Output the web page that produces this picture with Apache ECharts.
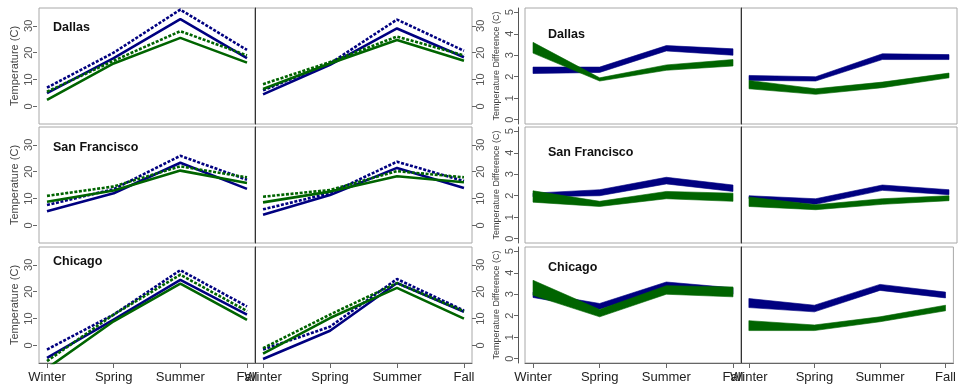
<!DOCTYPE html>
<html>
<head>
<meta charset="utf-8">
<script src="https://cdn.jsdelivr.net/npm/echarts@6/dist/echarts.min.js"></script>
<style>
  html, body { margin: 0; padding: 0; background: #fff; }
  #chart { width: 959px; height: 387px; }
</style>
</head>
<body>
<div id="chart"></div>
<script>
// Seasons on the x axis and the three cities shown in the rows
const seasons = ['Winter', 'Spring', 'Summer', 'Fall'];
const cities = ['Dallas', 'San Francisco', 'Chicago'];
const tempTicks = [0, 10, 20, 30];
const diffTicks = [0, 1, 2, 3, 4, 5];

// Seasonal temperatures (C), first and second panel of each city
const dallas1NavySolid = [5, 18, 32.5, 18];
const dallas1NavyDash = [7, 20, 36, 21];
const dallas1GreenSolid = [2.5, 16, 25.5, 16.3];
const dallas1GreenDash = [5.5, 17, 28, 19];

const dallas2NavySolid = [4.5, 15.5, 29, 18.3];
const dallas2NavyDash = [6, 16, 32.3, 20.7];
const dallas2GreenSolid = [6.5, 16, 24.7, 17];
const dallas2GreenDash = [8.3, 16.5, 26, 19];

const sanfran1NavySolid = [5.3, 12, 23.3, 13.6];
const sanfran1NavyDash = [7.6, 13.5, 25.9, 17];
const sanfran1GreenSolid = [8.8, 13, 20.4, 15.8];
const sanfran1GreenDash = [11, 14.5, 22, 17.9];

const sanfran2NavySolid = [4, 11.3, 21.4, 13.9];
const sanfran2NavyDash = [6, 12, 23.7, 16.5];
const sanfran2GreenSolid = [8.6, 12.6, 18.3, 16.1];
const sanfran2GreenDash = [10.7, 13.2, 20.2, 17.9];

const chicago1NavySolid = [-4.6, 9.6, 24.4, 11.5];
const chicago1NavyDash = [-1.5, 11.5, 28, 14.5];
const chicago1GreenSolid = [-8.5, 9, 23, 9.5];
const chicago1GreenDash = [-5.8, 11.5, 26.3, 12.8];

const chicago2NavySolid = [-5, 5.5, 23.2, 12.5];
const chicago2NavyDash = [-1.5, 7, 24.7, 13];
const chicago2GreenSolid = [-3, 10.2, 21.4, 10];
const chicago2GreenDash = [-1, 11.5, 23.2, 12.7];

// Temperature difference bands (C): lower and upper edge per season
const dallas1NavyLo = [2.15, 2.2, 3.2, 3.0];
const dallas1NavyHi = [2.45, 2.45, 3.45, 3.3];
const dallas1GreenLo = [3.1, 1.8, 2.3, 2.5];
const dallas1GreenHi = [3.6, 1.95, 2.55, 2.8];

const dallas2NavyLo = [1.83, 1.8, 2.8, 2.8];
const dallas2NavyHi = [2.06, 2.0, 3.07, 3.03];
const dallas2GreenLo = [1.44, 1.18, 1.49, 1.95];
const dallas2GreenHi = [1.83, 1.44, 1.75, 2.17];

const sanfran1NavyLo = [1.95, 2.0, 2.55, 2.2];
const sanfran1NavyHi = [2.12, 2.28, 2.86, 2.5];
const sanfran1GreenLo = [1.7, 1.5, 1.86, 1.74];
const sanfran1GreenHi = [2.23, 1.74, 2.2, 2.12];

const sanfran2NavyLo = [1.86, 1.6, 2.25, 2.05];
const sanfran2NavyHi = [2.0, 1.86, 2.5, 2.28];
const sanfran2GreenLo = [1.5, 1.35, 1.6, 1.77];
const sanfran2GreenHi = [1.94, 1.58, 1.86, 2.0];

const chicago1NavyLo = [2.85, 2.3, 3.26, 3.0];
const chicago1NavyHi = [3.1, 2.57, 3.57, 3.3];
const chicago1GreenLo = [2.95, 1.95, 3.0, 2.88];
const chicago1GreenHi = [3.65, 2.29, 3.4, 3.34];

const chicago2NavyLo = [2.38, 2.18, 3.18, 2.83];
const chicago2NavyHi = [2.8, 2.49, 3.46, 3.1];
const chicago2GreenLo = [1.31, 1.31, 1.72, 2.23];
const chicago2GreenHi = [1.77, 1.57, 1.95, 2.49];

const NAVY = '#000080';
const GREEN = '#006400';
const FONT = '"Liberation Sans", Arial, sans-serif';

const tempPanels = [
  [[dallas1NavyDash, dallas1NavySolid, dallas1GreenDash, dallas1GreenSolid],
   [dallas2NavyDash, dallas2NavySolid, dallas2GreenDash, dallas2GreenSolid]],
  [[sanfran1NavyDash, sanfran1NavySolid, sanfran1GreenDash, sanfran1GreenSolid],
   [sanfran2NavyDash, sanfran2NavySolid, sanfran2GreenDash, sanfran2GreenSolid]],
  [[chicago1NavyDash, chicago1NavySolid, chicago1GreenDash, chicago1GreenSolid],
   [chicago2NavyDash, chicago2NavySolid, chicago2GreenDash, chicago2GreenSolid]]
];
const diffPanels = [
  [[dallas1NavyLo, dallas1NavyHi, dallas1GreenLo, dallas1GreenHi],
   [dallas2NavyLo, dallas2NavyHi, dallas2GreenLo, dallas2GreenHi]],
  [[sanfran1NavyLo, sanfran1NavyHi, sanfran1GreenLo, sanfran1GreenHi],
   [sanfran2NavyLo, sanfran2NavyHi, sanfran2GreenLo, sanfran2GreenHi]],
  [[chicago1NavyLo, chicago1NavyHi, chicago1GreenLo, chicago1GreenHi],
   [chicago2NavyLo, chicago2NavyHi, chicago2GreenLo, chicago2GreenHi]]
];

// Panel geometry
const rowTops = [8, 127, 247];
const rowHeight = 116;
const colLefts = [39, 255, 525, 741];
const colWidths = [216, 217, 216, 216];

const grid = [], xAxis = [], yAxis = [], series = [], title = [];
const seasonTicks = [0, 1, 2, 3];

function addXAxis(gi, bottomRow) {
  xAxis.push({
    type: 'value', gridIndex: gi, min: -0.12, max: 3.12,
    splitLine: { show: false },
    axisLine: { show: bottomRow, onZero: false, lineStyle: { color: '#666', width: 1 } },
    axisTick: { show: bottomRow, customValues: seasonTicks, length: 5, lineStyle: { color: '#666' } },
    axisLabel: {
      show: bottomRow, customValues: seasonTicks, margin: 8,
      fontSize: 13, color: '#222', fontFamily: FONT,
      formatter: v => seasons[Math.round(v)]
    }
  });
}

function tickedY(gi, min, max, ticks, opts) {
  return Object.assign({
    type: 'value', gridIndex: gi, min: min, max: max,
    splitLine: { show: false },
    axisTick: { show: true, customValues: ticks, length: 4, lineStyle: { color: '#666' } },
    axisLabel: { show: true, customValues: ticks, rotate: 90, fontSize: 11, color: '#555', fontFamily: FONT, margin: 3 }
  }, opts);
}

function bareY(gi, min, max) {
  return {
    type: 'value', gridIndex: gi, min: min, max: max,
    splitLine: { show: false }, axisTick: { show: false }, axisLabel: { show: false },
    axisLine: { show: true, onZero: false, lineStyle: { color: '#333', width: 1 } }
  };
}

function lineSeries(values, color, dashed, xi, yi) {
  return {
    type: 'line', xAxisIndex: xi, yAxisIndex: yi, symbol: 'none', clip: true,
    silent: true, animation: false,
    data: values.map((v, i) => [i, v]),
    lineStyle: { color: color, width: 2.6, type: dashed ? [3, 1.6] : 'solid', cap: 'butt' }
  };
}

function bandSeries(lo, hi, color, xi, yi) {
  return {
    type: 'custom', xAxisIndex: xi, yAxisIndex: yi, clip: true, silent: true, animation: false,
    data: lo.map((v, i) => [i, v, hi[i]]),
    renderItem: function (params, api) {
      if (params.dataIndex !== 0) return null;
      const pts = [];
      for (let i = 0; i < lo.length; i++) pts.push(api.coord([i, lo[i]]));
      for (let i = hi.length - 1; i >= 0; i--) pts.push(api.coord([i, hi[i]]));
      return { type: 'polygon', shape: { points: pts }, style: { fill: color, stroke: color, lineWidth: 0.6 } };
    }
  };
}

for (let r = 0; r < 3; r++) {
  const bottomRow = r === 2;
  for (let c = 0; c < 4; c++) {
    const gi = grid.length;
    grid.push({
      left: colLefts[c], top: rowTops[r], width: colWidths[c], height: rowHeight,
      show: true, borderColor: '#a8a8a8', borderWidth: 1, backgroundColor: '#fff'
    });
    addXAxis(gi, bottomRow);
    const xi = gi;
    let yi;
    if (c === 0) {
      yi = yAxis.length;
      yAxis.push(tickedY(gi, -6.5, 36.6, tempTicks, {
        position: 'left', offset: 2,
        axisLine: { show: false, onZero: false },
        name: 'Temperature (C)', nameLocation: 'middle', nameGap: 17,
        nameTextStyle: { fontSize: 11, color: '#444', fontFamily: FONT }
      }));
    } else if (c === 1) {
      yi = yAxis.length;
      yAxis.push(tickedY(gi, -6.5, 36.6, tempTicks, { position: 'right', axisLine: { show: false, onZero: false } }));
      yAxis.push(Object.assign(bareY(gi, -6.5, 36.6), { position: 'left' }));
    } else if (c === 2) {
      yi = yAxis.length;
      yAxis.push(tickedY(gi, -0.2, 5.2, diffTicks, {
        position: 'left', offset: 7,
        axisLine: { show: true, onZero: false, lineStyle: { color: '#555', width: 1 } },
        name: 'Temperature Difference (C)', nameLocation: 'middle', nameGap: 17,
        nameTextStyle: { fontSize: 9, color: '#444', fontFamily: FONT }
      }));
    } else {
      yi = yAxis.length;
      yAxis.push(Object.assign(bareY(gi, -0.2, 5.2), { position: 'left' }));
    }

    if (c < 2) {
      const set = tempPanels[r][c];
      series.push(lineSeries(set[0], NAVY, true, xi, yi));
      series.push(lineSeries(set[1], NAVY, false, xi, yi));
      series.push(lineSeries(set[2], GREEN, true, xi, yi));
      series.push(lineSeries(set[3], GREEN, false, xi, yi));
    } else {
      const set = diffPanels[r][c - 2];
      series.push(bandSeries(set[0], set[1], NAVY, xi, yi));
      series.push(bandSeries(set[2], set[3], GREEN, xi, yi));
    }
  }
}

// City names inside the first panel of each group
const cityLabelTops = [[21, 141, 255], [28, 146, 261]];
const cityLabelLefts = [53, 548];
for (let g = 0; g < 2; g++) {
  for (let r = 0; r < 3; r++) {
    title.push({
      text: cities[r], left: cityLabelLefts[g], top: cityLabelTops[g][r], padding: 0,
      textStyle: { fontSize: 12.5, fontWeight: 'bold', color: '#111', fontFamily: FONT }
    });
  }
}

const chart = echarts.init(document.getElementById('chart'), null, { renderer: 'canvas' });
chart.setOption({
  animation: false,
  backgroundColor: '#fff',
  title: title,
  grid: grid,
  xAxis: xAxis,
  yAxis: yAxis,
  series: series
});
</script>
</body>
</html>
